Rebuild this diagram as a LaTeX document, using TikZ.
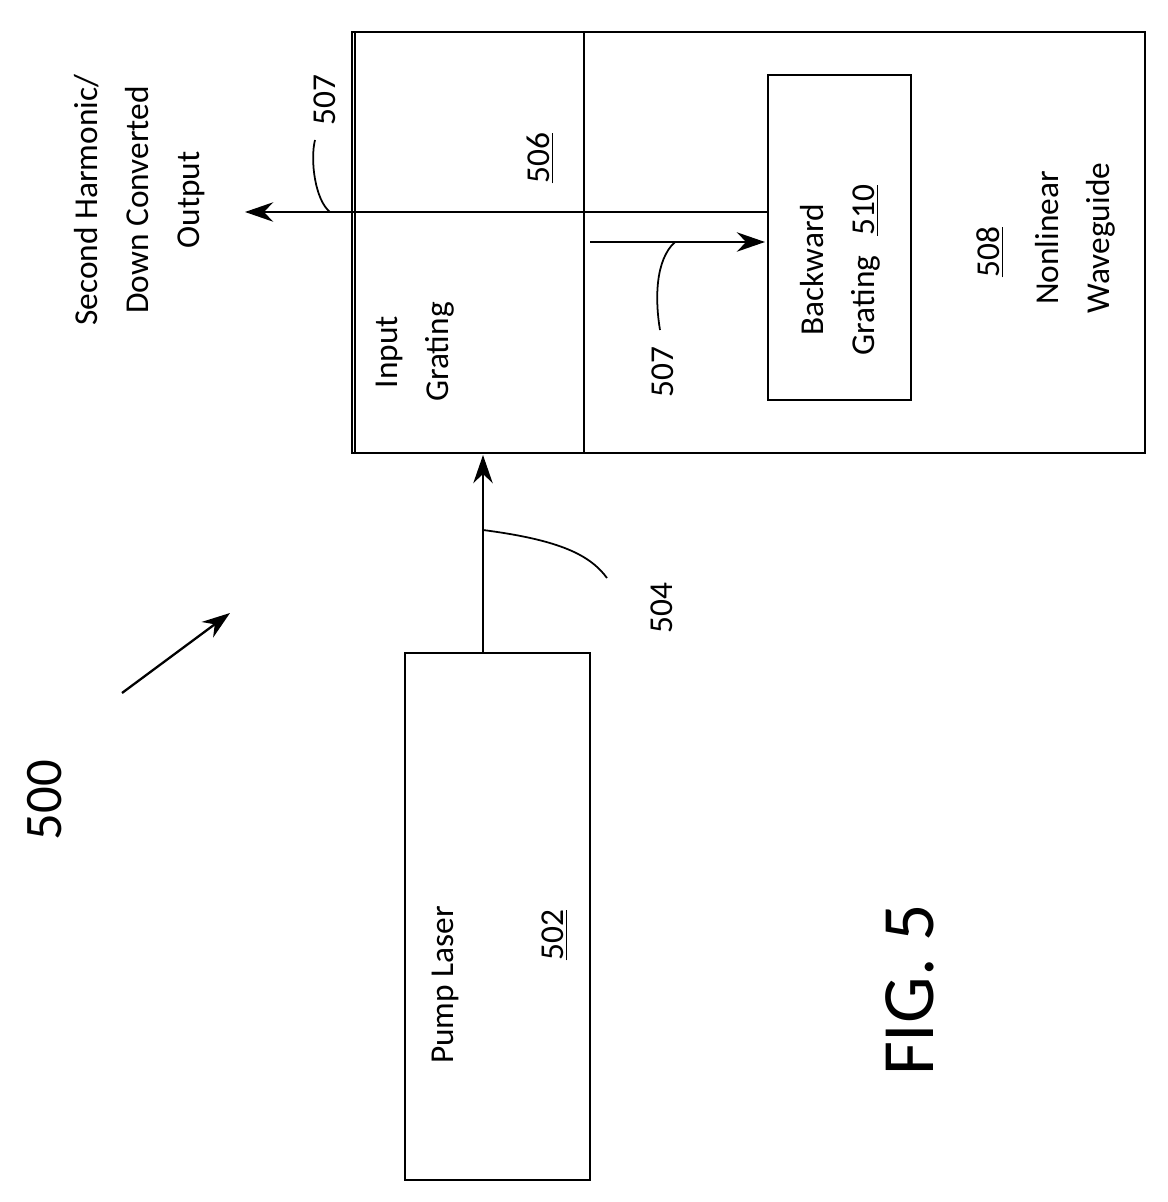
\documentclass[tikz,border=0pt]{standalone}
\usepackage{fontspec}
\setmainfont{Carlito}
\usetikzlibrary{arrows.meta}
\begin{document}
\begin{tikzpicture}[x=0.02cm,y=-0.02cm,
  line width=1.3pt,
  box/.style={draw,line width=1.6pt},
  lbl/.style={rotate=90,align=center,font=\fontsize{19}{29}\selectfont},
  arr/.style={-{Stealth[length=16pt,width=11pt]}},
  lead/.style={line width=1pt}]
\useasboundingbox (0,0) rectangle (1167,1202);
\draw[box] (352,32) rectangle (1145,453);
\draw[line width=1.2pt] (355,32) -- (355,453);
\draw[box] (352,32) rectangle (584,453);
\draw[box] (768,75) rectangle (911,400);
\draw[box] (405,653) rectangle (590,1180);
\coordinate (pt) at (483,653); \coordinate (pin) at (483,455);
\draw[arr] (pt) -- (pin);
\coordinate (a) at (483,530); \coordinate (b) at (607,578);
\draw[lead] (a) .. controls (560,540) and (590,555) .. (b);
\node[lbl] (l504) at (662,608) {504};
\coordinate (bgl) at (768,212); \coordinate (out) at (245,212);
\draw[arr] (bgl) -- (out);
\coordinate (c) at (330,212); \coordinate (d) at (315,140);
\draw[lead] (c) .. controls (315,200) and (310,160) .. (d);
\node[lbl] (l507a) at (325,100) {507};
\coordinate (e) at (590,242); \coordinate (f) at (765,242);
\draw[arr] (e) -- (f);
\coordinate (g) at (675,242); \coordinate (h) at (660,330);
\draw[lead] (g) .. controls (655,260) and (655,300) .. (h);
\node[lbl] (l507b) at (663,372) {507};
\node[lbl] (out-t) at (140,200) {Second Harmonic/\\Down Converted\\Output};
\node[lbl] (ig) at (415,352) {Input\\Grating};
\node[lbl] (n506) at (540,158) {\underline{506}};
\node[lbl] (bg) at (840,270) {Backward\\Grating\hspace{0.6em}\underline{510}};
\node[lbl] (n508) at (990,252) {\underline{508}};
\node[lbl] (nw) at (1075,238) {Nonlinear\\Waveguide};
\node[lbl] (pl) at (445,985) {Pump Laser};
\node[lbl] (n502) at (555,935) {\underline{502}};
\node[rotate=90,font=\fontsize{30}{36}\selectfont] (n500) at (45,800) {500};
\coordinate (p1) at (122,693); \coordinate (p2) at (230,613);
\draw[arr] (p1) -- (p2);
\node[rotate=90,font=\fontsize{42}{50}\selectfont] (fig) at (910,990) {FIG. 5};
\end{tikzpicture}
\end{document}
